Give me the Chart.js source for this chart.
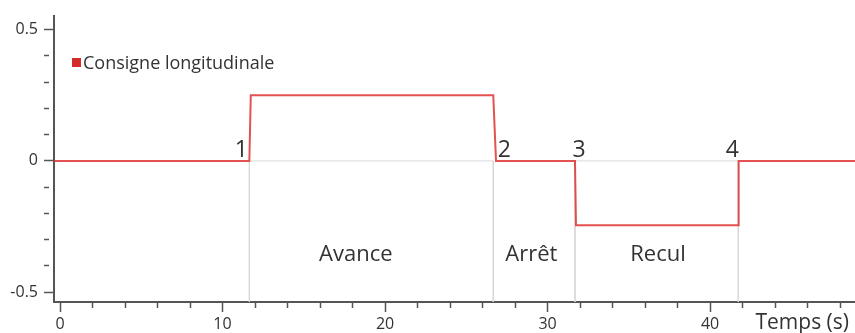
<!DOCTYPE html>
<html>
<head>
<meta charset="utf-8">
<script src="https://cdn.jsdelivr.net/npm/chart.js@4"></script>
<style>
  html, body { margin: 0; padding: 0; background: #fff; }
  #wrap { width: 855px; height: 333px; }
</style>
</head>
<body>
<div id="wrap"><canvas id="consigneChart"></canvas></div>
<script>
// ----------- DATA -----------
const times = [-0.37, 11.65, 11.74, 26.66, 26.83, 31.69, 31.75, 41.74, 41.76, 48.92];
const consigne = [0, 0, 0.25, 0.25, 0, 0, -0.245, -0.245, 0, 0];
const switchTimes = [11.65, 26.66, 31.69, 41.74];
const switchLabels = ["1", "2", "3", "4"];
const phaseNames = ["Avance", "Arrêt", "Recul"];
const phaseCenters = [18.2, 29.0, 36.8];
const phaseLevel = -0.36;
const yMajorTicks = [-0.5, 0, 0.5];
const xMajorTicks = [0, 10, 20, 30, 40];

const xMin = -0.37, xMax = 48.92, yMin = -0.538, yMax = 0.554;

// gray guide lines: verticals at switches, zero line under the plateaus
const guides = [];
switchTimes.forEach(t => {
  guides.push({ x: t, y: 0 }, { x: t, y: yMin }, { x: t, y: null });
});
guides.push({ x: switchTimes[0], y: 0 }, { x: switchTimes[1], y: 0 }, { x: switchTimes[1], y: null });
guides.push({ x: switchTimes[2], y: 0 }, { x: switchTimes[3], y: 0 });

const isMajor = (v, list) => list.some(m => Math.abs(v - m) < 1e-6);
const textColor = "#333";
const font = "'Open Sans', 'DejaVu Sans', sans-serif";

// ----------- ANNOTATIONS (legend, markers, phases, axis title) -----------
const annotations = {
  id: "annotations",
  afterDraw(chart) {
    const { ctx, scales: { x, y } } = chart;
    ctx.save();

    // legend
    ctx.fillStyle = "#d42b2b";
    ctx.fillRect(72, 58, 9, 9);
    ctx.fillStyle = textColor;
    ctx.font = "18px " + font;
    ctx.textAlign = "left";
    ctx.textBaseline = "alphabetic";
    ctx.fillText("Consigne longitudinale", 83, 69);

    // switch markers
    const offs = [-8, 11, 4, -6];
    ctx.font = "23px " + font;
    ctx.textAlign = "center";
    switchLabels.forEach((lab, i) => {
      ctx.fillText(lab, x.getPixelForValue(switchTimes[i]) + offs[i], y.getPixelForValue(0) - 4);
    });

    // phase names
    ctx.font = "22px " + font;
    ctx.textBaseline = "middle";
    phaseNames.forEach((name, i) => {
      ctx.fillText(name, x.getPixelForValue(phaseCenters[i]), y.getPixelForValue(phaseLevel) - 1);
    });

    // axis title
    ctx.font = "21px " + font;
    ctx.textAlign = "right";
    ctx.textBaseline = "alphabetic";
    ctx.fillText("Temps (s)", 849, 329);
    ctx.restore();
  }
};

// ----------- CONSIGNE LINE CHART -----------
const ctx = document.getElementById("consigneChart").getContext("2d");
new Chart(ctx, {
  type: "line",
  data: {
    datasets: [{
      label: "Consigne longitudinale",
      data: times.map((t, i) => ({ x: t, y: consigne[i] })),
      borderColor: "rgba(222,50,50,0.85)",
      borderWidth: 2,
      pointRadius: 0,
      tension: 0
    }, {
      label: "guides",
      data: guides,
      borderColor: "#d9d9d9",
      borderWidth: 1,
      pointRadius: 0,
      spanGaps: false
    }]
  },
  options: {
    responsive: true,
    maintainAspectRatio: false,
    animation: false,
    layout: { padding: { top: 12, right: 0, left: 0, bottom: 0 } },
    plugins: { legend: { display: false }, tooltip: { enabled: false } },
    scales: {
      x: {
        type: "linear",
        min: xMin,
        max: xMax,
        afterFit: s => { s.height = 31; },
        border: { display: true, color: "#555", width: 2 },
        grid: {
          drawOnChartArea: false,
          tickLength: 10,
          tickColor: "#555",
          tickWidth: 1.5,
          tickBorderDash: c => isMajor(c.tick.value, xMajorTicks) ? [] : [5, 100]
        },
        ticks: {
          stepSize: 2,
          includeBounds: false,
          autoSkip: false,
          maxRotation: 0,
          padding: 3,
          color: textColor,
          font: { family: font, size: 16 },
          callback: v => isMajor(v, xMajorTicks) ? String(v) : ""
        }
      },
      y: {
        type: "linear",
        min: yMin,
        max: yMax,
        afterFit: s => { s.width = 54; },
        border: { display: true, color: "#555", width: 2 },
        grid: {
          drawOnChartArea: false,
          tickLength: 10,
          tickColor: "#555",
          tickWidth: 1.5,
          tickBorderDash: c => isMajor(c.tick.value, yMajorTicks) ? [] : [5, 100]
        },
        ticks: {
          stepSize: 0.1,
          includeBounds: false,
          autoSkip: false,
          padding: 6,
          color: textColor,
          font: { family: font, size: 16 },
          callback: v => isMajor(v, yMajorTicks) ? String(Math.round(v * 10) / 10) : ""
        }
      }
    }
  },
  plugins: [annotations]
});
</script>
</body>
</html>
